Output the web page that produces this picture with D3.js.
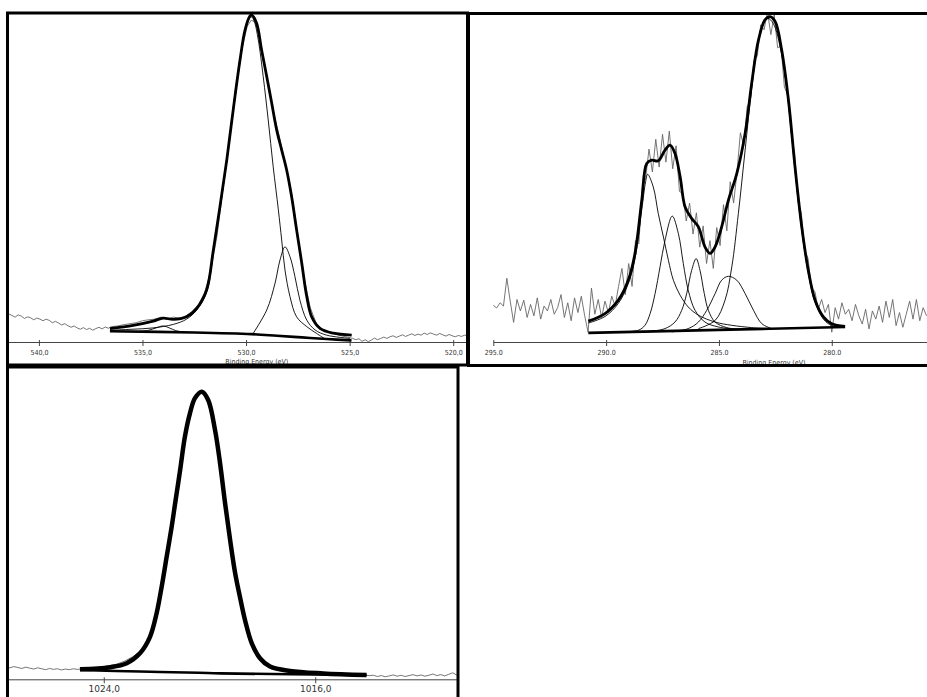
<!DOCTYPE html>
<html>
<head>
<meta charset="utf-8">
<script src="https://cdn.jsdelivr.net/npm/d3@7"></script>
<style>
  body { margin: 0; background: #fff; }
  svg { display: block; }
</style>
</head>
<body>
<div id="chart"></div>
<script>
// O 1s region, [binding energy (eV), intensity]
let o1sRaw = [
  [541.6, 8.0], [541.45, 8.6], [541.3, 8.1], [541.15, 7.6], [541.0, 8.3], [540.85, 7.9], [540.7, 7.2],
  [540.55, 7.7], [540.4, 7.4], [540.25, 6.8], [540.1, 7.3], [539.95, 7.0], [539.8, 6.5], [539.65, 7.0],
  [539.5, 6.6], [539.35, 5.9], [539.2, 6.3], [539.05, 5.8], [538.9, 5.2], [538.75, 5.6], [538.6, 5.0],
  [538.45, 4.5], [538.3, 4.9], [538.15, 4.3], [538.0, 3.9], [537.85, 4.4], [537.7, 3.8], [537.55, 4.2],
  [537.4, 3.6], [537.25, 4.1], [537.1, 4.5], [536.95, 4.0], [536.8, 4.6], [536.65, 4.2], [536.5, 4.7],
  [536.2, 4.9], [535.9, 5.3], [535.6, 5.6], [535.3, 5.9], [535.0, 6.5], [534.7, 6.8], [534.4, 7.0],
  [534.1, 7.6], [533.8, 7.2], [533.5, 7.6], [533.2, 7.3], [532.9, 8.0], [532.6, 9.4], [532.3, 11.5],
  [532.0, 15.0], [531.7, 22.0], [531.4, 32.5], [531.1, 47.5], [530.8, 62.0], [530.5, 78.0], [530.2, 89.5],
  [529.95, 96.5], [529.75, 98.4], [529.55, 97.8], [529.3, 91.5], [529.0, 81.5], [528.7, 71.0], [528.4, 63.0],
  [528.1, 54.5], [527.8, 45.5], [527.5, 32.5], [527.2, 19.5], [526.9, 10.5], [526.6, 5.5], [526.3, 3.8],
  [526.0, 3.0], [525.7, 2.4], [525.4, 1.9], [525.1, 1.5], [524.85, 1.1], [524.7, 0.7], [524.55, 1.0],
  [524.4, 0.2], [524.25, 0.7], [524.1, 0.1], [523.95, 0.6], [523.8, 1.2], [523.65, 0.7], [523.5, 1.1],
  [523.35, 1.5], [523.2, 1.1], [523.05, 1.6], [522.9, 1.9], [522.75, 1.4], [522.6, 1.8], [522.45, 2.2],
  [522.3, 1.7], [522.15, 2.1], [522.0, 2.5], [521.85, 2.0], [521.7, 2.4], [521.55, 2.1], [521.4, 2.7],
  [521.25, 2.3], [521.1, 2.8], [520.95, 2.4], [520.8, 2.1], [520.65, 2.6], [520.5, 2.2], [520.35, 1.8],
  [520.2, 2.3], [520.05, 1.9], [519.9, 1.6], [519.75, 2.0], [519.6, 1.7], [519.45, 2.1], [519.3, 1.8]
]
let o1sEnvelope = [
  [536.57, 4.1], [535.45, 5.1], [534.48, 6.4], [534.0, 7.3], [533.52, 6.9], [532.87, 7.7], [532.38, 10.3],
  [531.9, 16.0], [531.58, 28.1], [531.26, 41.4], [530.93, 55.7], [530.62, 71.0], [530.29, 86.3], [530.05, 95.4],
  [529.81, 99.7], [529.73, 100], [529.49, 97.5], [529.25, 89.3], [529.0, 81.1], [528.76, 73.0], [528.52, 64.8],
  [528.28, 58.7], [528.04, 52.6], [527.8, 44.4], [527.56, 34.3], [527.31, 24.1], [527.07, 13.9], [526.83, 7.7],
  [526.43, 4.2], [525.79, 2.7], [524.9, 2.1]
]
let o1sBackground = [
  [536.57, 3.3], [532.5, 2.9], [529.73, 2.4], [528.5, 1.9], [527.3, 1.4], [526.1, 0.9], [524.91, 0.5]
]
let o1sPeakA = [
  [536.57, 3.6], [535.5, 3.9], [534.5, 4.3], [533.5, 5.4], [532.87, 7.0], [532.38, 9.8], [531.9, 15.3],
  [531.58, 27.4], [531.26, 40.8], [530.93, 55.2], [530.62, 70.5], [530.29, 85.8], [530.05, 94.9], [529.81, 99.2],
  [529.73, 99.4], [529.6, 98.0], [529.41, 92.4], [529.17, 81.1], [528.93, 67.9], [528.69, 53.6], [528.44, 40.4],
  [528.28, 31.2], [528.12, 22.0], [527.88, 13.9], [527.56, 7.7], [527.07, 4.7], [526.59, 2.6], [526.2, 1.0]
]
let o1sPeakB = [
  [529.65, 2.7], [529.0, 9.8], [528.6, 18.0], [528.36, 25.1], [528.12, 29.1], [527.88, 26.1], [527.64, 20.0],
  [527.4, 12.8], [527.07, 6.7], [526.67, 3.7], [526.11, 2.1], [524.98, 1.1]
]
let o1sPeakC = [
  [535.2, 3.2], [534.7, 3.6], [534.35, 4.3], [534.0, 4.9], [533.7, 4.3], [533.4, 3.5], [533.0, 3.0]
]
let o1sTicks = [540, 535, 530, 525, 520]

// C 1s region
let c1sRaw = [
  [295.0, 11.2], [294.85, 10.4], [294.7, 12.0], [294.55, 11.0], [294.4, 19.5], [294.25, 12.5], [294.1, 6.0],
  [293.95, 13.0], [293.8, 9.5], [293.65, 12.8], [293.5, 7.5], [293.35, 11.5], [293.2, 8.0], [293.05, 13.5],
  [292.9, 7.0], [292.75, 11.0], [292.6, 9.5], [292.45, 13.0], [292.3, 8.5], [292.15, 10.5], [292.0, 14.5],
  [291.85, 7.5], [291.7, 12.0], [291.55, 6.5], [291.4, 13.5], [291.25, 9.0], [291.1, 14.0], [290.95, 8.0],
  [290.8, 3.0], [290.65, 16.5], [290.5, 8.5], [290.35, 13.0], [290.2, 7.5], [290.05, 12.5], [289.9, 9.0],
  [289.75, 14.0], [289.6, 11.0], [289.45, 17.0], [289.3, 22.5], [289.15, 14.5], [289.0, 24.0], [288.85, 17.0],
  [288.7, 31.0], [288.55, 30.0], [288.4, 47.0], [288.25, 50.0], [288.1, 59.0], [287.95, 52.0], [287.8, 62.0],
  [287.65, 53.5], [287.5, 63.5], [287.35, 55.0], [287.2, 64.5], [287.05, 53.0], [286.9, 60.0], [286.75, 46.0],
  [286.6, 45.5], [286.45, 37.0], [286.3, 42.5], [286.15, 33.0], [286.0, 39.5], [285.85, 29.0], [285.7, 35.5],
  [285.55, 24.0], [285.4, 31.0], [285.25, 22.5], [285.1, 35.0], [284.95, 29.5], [284.8, 42.0], [284.65, 34.0],
  [284.5, 49.0], [284.35, 42.5], [284.2, 52.0], [284.05, 64.0], [283.9, 60.0], [283.75, 72.0], [283.6, 74.0],
  [283.45, 86.0], [283.3, 87.5], [283.15, 97.0], [283.0, 95.5], [282.85, 101.0], [282.7, 94.0], [282.55, 100.0],
  [282.4, 90.0], [282.25, 90.5], [282.1, 78.0], [281.95, 75.5], [281.8, 64.0], [281.65, 58.0], [281.5, 43.0],
  [281.35, 39.5], [281.2, 28.0], [281.05, 25.5], [280.9, 16.5], [280.75, 15.5], [280.6, 10.0], [280.45, 13.0],
  [280.3, 9.0], [280.15, 11.5], [280.0, 3.0], [279.85, 10.5], [279.7, 7.0], [279.55, 12.0], [279.4, 8.5],
  [279.25, 10.0], [279.1, 6.5], [278.95, 11.5], [278.8, 8.0], [278.65, 5.5], [278.5, 10.0], [278.35, 4.0],
  [278.2, 9.5], [278.05, 7.0], [277.9, 11.0], [277.75, 6.0], [277.6, 12.5], [277.45, 7.5], [277.3, 13.0],
  [277.15, 5.0], [277.0, 9.0], [276.85, 4.5], [276.7, 8.5], [276.55, 12.5], [276.4, 7.0], [276.25, 13.0],
  [276.1, 6.5], [275.95, 10.5], [275.8, 8.0]
]
let c1sEnvelope = [
  [290.79, 6.4], [290.05, 8.7], [289.46, 12.8], [289.02, 18.9], [288.72, 27.1], [288.42, 43.4], [288.2, 54.6],
  [287.98, 55.6], [287.69, 55.4], [287.39, 58.7], [287.17, 60.2], [286.95, 57.7], [286.72, 50.5], [286.5, 41.3],
  [286.21, 37.8], [285.91, 35.2], [285.62, 29.1], [285.39, 27.1], [285.17, 29.1], [284.88, 35.2], [284.58, 43.4],
  [284.21, 51.5], [283.84, 63.8], [283.55, 79.1], [283.25, 92.3], [282.96, 98.5], [282.74, 99.5], [282.51, 98.0],
  [282.22, 89.3], [281.92, 74.0], [281.63, 53.6], [281.33, 35.2], [281.04, 21.9], [280.74, 12.8], [280.37, 7.7],
  [280.0, 5.6], [279.41, 4.8]
]
let c1sBackground = [[290.79, 2.8], [285.0, 3.7], [279.41, 4.6]]
let c1sPeak1 = [
  [290.79, 5.8], [290.05, 7.8], [289.46, 11.8], [289.02, 17.8], [288.72, 25.5], [288.42, 40.5], [288.25, 49.0],
  [288.16, 51.3], [287.91, 47.4], [287.69, 39.3], [287.46, 32.1], [287.24, 25.0], [287.02, 18.9], [286.72, 14.3],
  [286.36, 10.7], [285.91, 8.2], [285.17, 6.1], [284.43, 5.1], [283.55, 4.4], [282.96, 4.1]
]
let c1sPeak2 = [
  [289.31, 3.1], [288.57, 3.6], [288.28, 5.1], [288.05, 8.7], [287.83, 14.8], [287.61, 23.0], [287.39, 31.1],
  [287.07, 38.5], [286.8, 33.2], [286.58, 24.0], [286.36, 15.8], [286.06, 9.7], [285.62, 6.1], [285.03, 4.6],
  [284.14, 3.8]
]
let c1sPeak3 = [
  [288.13, 3.1], [287.39, 4.1], [286.95, 6.1], [286.65, 9.7], [286.43, 14.8], [286.21, 21.9], [286.01, 25.5],
  [285.84, 21.9], [285.65, 14.8], [285.47, 9.7], [285.17, 6.1], [284.65, 4.4], [283.99, 3.8]
]
let c1sPeak4 = [
  [287.09, 3.1], [286.36, 4.1], [285.91, 6.1], [285.54, 9.7], [285.17, 14.8], [284.88, 18.9], [284.58, 20.1],
  [284.21, 18.9], [283.84, 14.8], [283.47, 9.7], [283.1, 5.6], [282.66, 4.1]
]
let c1sPeak5 = [
  [285.91, 4.1], [285.17, 6.6], [284.73, 12.8], [284.43, 23.0], [284.14, 39.3], [283.84, 58.7], [283.55, 77.5],
  [283.25, 92.3], [283.03, 97.5], [282.84, 99.0], [282.6, 97.5], [282.22, 88.0], [281.92, 72.8], [281.63, 52.5],
  [281.33, 34.0], [281.04, 21.0], [280.74, 12.0], [280.37, 7.0], [280.0, 5.0], [279.41, 4.4]
]
let c1sTicks = [295, 290, 285, 280]

// Zn 2p region
let zn2pRaw = [
  [1027.7, 4.0], [1027.55, 3.7], [1027.4, 4.1], [1027.25, 3.8], [1027.1, 3.5], [1026.95, 3.9], [1026.8, 3.6],
  [1026.65, 3.3], [1026.5, 3.7], [1026.35, 3.4], [1026.2, 3.1], [1026.05, 3.5], [1025.9, 3.2], [1025.75, 3.4],
  [1025.6, 3.0], [1025.45, 3.3], [1025.3, 3.1], [1025.15, 3.4], [1025.0, 3.2], [1024.7, 3.4], [1024.4, 3.7],
  [1024.1, 4.0], [1023.8, 4.4], [1023.5, 4.9], [1023.2, 5.9], [1022.9, 7.3], [1022.6, 9.0], [1022.3, 12.8],
  [1022.0, 21.0], [1021.7, 35.5], [1021.4, 50.0], [1021.1, 67.5], [1020.8, 83.0], [1020.55, 90.2], [1020.3, 92.4],
  [1020.05, 89.8], [1019.8, 80.0], [1019.6, 69.2], [1019.4, 56.5], [1019.2, 44.0], [1019.0, 33.5], [1018.8, 24.5],
  [1018.5, 15.0], [1018.2, 8.0], [1017.9, 5.0], [1017.6, 3.8], [1017.3, 3.1], [1016.9, 2.6], [1016.5, 2.3],
  [1016.1, 2.0], [1015.7, 1.8], [1015.3, 1.6], [1014.9, 1.5], [1014.5, 1.4], [1014.15, 1.3], [1013.95, 1.2],
  [1013.8, 1.3], [1013.65, 0.9], [1013.5, 1.2], [1013.35, 0.8], [1013.2, 1.1], [1013.05, 1.4], [1012.9, 1.0],
  [1012.75, 1.3], [1012.6, 0.9], [1012.45, 1.2], [1012.3, 1.5], [1012.15, 1.1], [1012.0, 1.4], [1011.85, 1.0],
  [1011.7, 1.3], [1011.55, 1.7], [1011.4, 1.2], [1011.25, 1.5], [1011.1, 1.1], [1010.95, 1.6], [1010.8, 2.1],
  [1010.65, 1.4], [1010.5, 1.8]
]
let zn2pEnvelope = [
  [1024.9, 3.2], [1023.76, 3.9], [1023.13, 5.2], [1022.63, 8.4], [1022.25, 13.7], [1022.0, 21.3], [1021.81, 29.8],
  [1021.62, 39.5], [1021.43, 49.2], [1021.3, 56.7], [1021.11, 67.5], [1020.93, 78.2], [1020.74, 85.7], [1020.55, 90.6],
  [1020.29, 92.7], [1020.05, 90.0], [1019.79, 80.3], [1019.6, 69.6], [1019.41, 56.7], [1019.22, 44.9], [1019.03, 34.2],
  [1018.85, 26.6], [1018.66, 19.2], [1018.4, 11.6], [1018.09, 6.8], [1017.71, 4.1], [1016.96, 2.7], [1015.7, 1.9],
  [1014.06, 1.4]
]
let zn2pBackground = [[1024.9, 3.0], [1022.63, 2.5], [1020.4, 2.1], [1019.6, 1.9], [1014.06, 1.4]]
let zn2pTicks = [1024, 1016]

function main () {
  let svg = d3.select('#chart').append('svg').attr('width', 927).attr('height', 697)

  drawPanel(svg, {
    id: 'o1s', box: [7.5, 13, 460, 352], domain: [541.54, 519.31], xRange: [7, 467.5],
    yRange: [342, 15], ticks: o1sTicks, sep: ',', font: 7, labelDy: 10.7, title: [256.8, 363.5],
    raw: o1sRaw, peaks: [o1sPeakC, o1sPeakA, o1sPeakB], bg: o1sBackground, env: o1sEnvelope, envWidth: 2.8
  })
  drawPanel(svg, {
    id: 'c1s', box: [468.5, 13.5, 470, 352], domain: [295, 275.78], xRange: [493.3, 927],
    yRange: [342, 15], ticks: c1sTicks, sep: '.', font: 7, labelDy: 10.7, title: [774, 364.5],
    raw: c1sRaw, peaks: [c1sPeak1, c1sPeak2, c1sPeak3, c1sPeak4, c1sPeak5], bg: c1sBackground, env: c1sEnvelope, envWidth: 2.8
  })
  drawPanel(svg, {
    id: 'zn2p', box: [7.5, 367, 450.5, 340], domain: [1027.66, 1010.6], xRange: [7, 458],
    yRange: [679.3, 369], ticks: zn2pTicks, sep: ',', font: 9, labelDy: 9.7, title: null,
    raw: zn2pRaw, peaks: [], bg: zn2pBackground, env: zn2pEnvelope, envWidth: 4.5
  })
}

function drawPanel (svg, p) {
  let [bx, by, bw, bh] = p.box
  let x = d3.scaleLinear().domain(p.domain).range(p.xRange)
  let y = d3.scaleLinear().domain([0, 100]).range(p.yRange)

  svg.append('clipPath').attr('id', 'clip-' + p.id)
    .append('rect').attr('x', bx).attr('y', by).attr('width', bw).attr('height', bh)

  let g = svg.append('g').attr('clip-path', `url(#clip-${p.id})`)

  // axis
  let fmt = (d) => d3.format('.1f')(d).replace('.', p.sep)
  let axis = g.append('g')
    .attr('transform', `translate(0,${p.yRange[0]})`)
    .call(d3.axisBottom(x).tickValues(p.ticks).tickFormat(fmt).tickSizeOuter(0).tickSizeInner(4))
  axis.select('.domain').attr('stroke', '#444').attr('stroke-width', 1)
  axis.selectAll('.tick line').attr('y1', -2).attr('y2', 4).attr('stroke', '#444')
  axis.selectAll('.tick text')
    .attr('y', p.labelDy).attr('dy', '0.35em')
    .attr('fill', '#333')
    .style('font-family', p.font > 8 ? 'DejaVu Sans, sans-serif' : '"Liberation Sans Narrow", "DejaVu Sans Condensed", sans-serif')
    .style('font-size', p.font + 'px')

  if (p.title) {
    g.append('text')
      .attr('x', p.title[0]).attr('y', p.title[1])
      .attr('text-anchor', 'middle')
      .attr('fill', '#333')
      .style('font-family', '"Liberation Sans Narrow", "DejaVu Sans Condensed", sans-serif')
      .style('font-size', '7px')
      .text('Binding Energy (eV)')
  }

  let line = d3.line().x((d) => x(d[0])).y((d) => y(d[1]))
  let smooth = d3.line().x((d) => x(d[0])).y((d) => y(d[1])).curve(d3.curveCatmullRom)

  g.append('path').datum(p.raw).attr('d', line)
    .attr('fill', 'none').attr('stroke', '#666').attr('stroke-width', 0.9)

  p.peaks.forEach((pk) => {
    g.append('path').datum(pk).attr('d', smooth)
      .attr('fill', 'none').attr('stroke', '#000').attr('stroke-width', 0.9)
  })

  g.append('path').datum(p.bg).attr('d', smooth)
    .attr('fill', 'none').attr('stroke', '#000').attr('stroke-width', 2.6)

  g.append('path').datum(p.env).attr('d', smooth)
    .attr('fill', 'none').attr('stroke', '#000').attr('stroke-width', p.envWidth)
    .attr('stroke-linejoin', 'round')

  svg.append('rect')
    .attr('x', bx).attr('y', by).attr('width', bw).attr('height', bh)
    .attr('fill', 'none').attr('stroke', '#000').attr('stroke-width', 3)
}

main()
</script>
</body>
</html>
